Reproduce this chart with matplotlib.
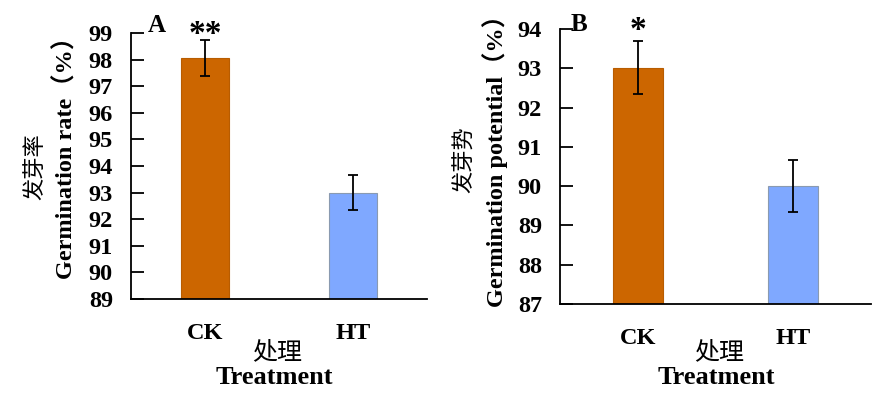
import numpy as np
import matplotlib.pyplot as plt

plt.rcParams['font.family'] = ['Liberation Serif', 'Noto Sans CJK SC']

groups = ['CK', 'HT']
rate = [98.05, 93.0]
rate_err = [0.67, 0.67]
potential = [93.02, 90.0]
potential_err = [0.67, 0.67]
colors = ['#CC6600', '#7FA8FF']
edges = ['#B85C00', '#8A9AB0']

fig = plt.figure(figsize=(8.86, 3.94), dpi=100)
axA = fig.add_axes([131/886, 95/394, 296/886, 266/394])
axB = fig.add_axes([560/886, 90/394, 311/886, 275/394])

def panel(ax, vals, errs, ylim, letter, lx, ly, star, star_y):
    x = np.arange(len(groups))
    ax.bar(x, [v - ylim[0] for v in vals], bottom=ylim[0], width=0.32,
           color=colors, edgecolor=edges, linewidth=0.8, zorder=2)
    ax.errorbar(x, vals, yerr=errs, fmt='none', ecolor='black',
                elinewidth=1.3, capsize=3.5, capthick=1.3, zorder=3)
    ax.set_xlim(-0.5, 1.5)
    ax.set_ylim(*ylim)
    ax.set_yticks(range(ylim[0], ylim[1] + 1))
    ax.set_xticks(x)
    ax.set_xticklabels(groups)
    for s in ['top', 'right']:
        ax.spines[s].set_visible(False)
    for s in ['left', 'bottom']:
        ax.spines[s].set_linewidth(1.3)
    ax.tick_params(axis='y', direction='in', length=9, width=1.3, pad=13,
                   labelsize=17.5)
    ax.tick_params(axis='x', length=0, pad=17, labelsize=17.5)
    for t in ax.get_xticklabels() + ax.get_yticklabels():
        t.set_fontweight('bold')
    ax.text(lx, ly, letter, transform=ax.transAxes, fontsize=18,
            fontweight='bold', ha='left', va='center')
    ax.text(0, star_y, star, fontsize=24, fontweight='bold', ha='center',
            va='center', clip_on=False)

panel(axA, rate, rate_err, (89, 99), 'A', 0.055, 1.03, '**', 98.95)
panel(axB, potential, potential_err, (87, 94), 'B', 0.035, 1.015, '*', 93.95)

# y labels
fig.text(66/886, 1 - 152/394, 'Germination rate（%）', rotation=90,
         ha='center', va='center', fontsize=17.5, fontweight='bold')
fig.text(35/886, 1 - 167/394, '发芽率', rotation=90, ha='center', va='center',
         fontsize=16, family=['Noto Sans CJK SC'])
fig.text(495/886, 1 - 155/394, 'Germination potential（%）', rotation=90,
         ha='center', va='center', fontsize=17.5, fontweight='bold')
fig.text(465/886, 1 - 160/394, '发芽势', rotation=90, ha='center', va='center',
         fontsize=16, family=['Noto Sans CJK SC'])

# x labels
for cx in (277, 719):
    fig.text(cx/886, 1 - 352/394, '处理', ha='center', va='center',
             fontsize=18, family=['Noto Sans CJK SC'])
    fig.text((cx - 3)/886, 1 - 378/394, 'Treatment', ha='center', va='center',
             fontsize=19, fontweight='bold')

fig.savefig('out.png', dpi=100)
